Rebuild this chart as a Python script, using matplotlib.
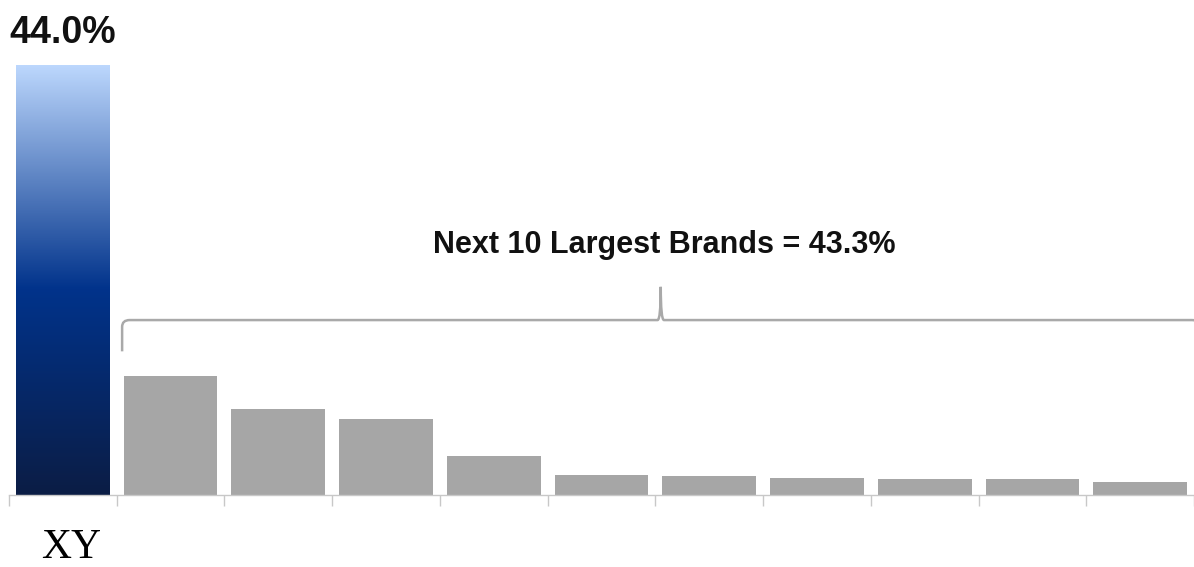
import matplotlib
matplotlib.use("Agg")
import matplotlib.pyplot as plt
import matplotlib.transforms as mtransforms
import numpy as np
from matplotlib.colors import LinearSegmentedColormap
from matplotlib.path import Path
from matplotlib.patches import PathPatch

# market share, %: XY first, then the next 10 largest brands
brands = ["XY", "", "", "", "", "", "", "", "", "", ""]
shares = [44.0, 12.2, 8.8, 7.8, 4.0, 2.0, 1.9, 1.7, 1.6, 1.6, 1.3]
top_label = "44.0%"
group_label = "Next 10 Largest Brands = 43.3%"

narrow = ["Liberation Sans Narrow", "Liberation Sans", "DejaVu Sans"]

fig = plt.figure(figsize=(11.94, 5.67), dpi=100)
ax = fig.add_axes([9 / 1194, 72 / 567, 1185 / 1194, 495 / 567])

x = np.arange(len(shares))
width = 0.87
bars = ax.bar(x, shares, width=width, color="#a6a6a6", zorder=2)

# gradient fill for the XY bar
blues = LinearSegmentedColormap.from_list(
    "xy", [(0.0, "#0b1d45"), (0.48, "#01338b"), (1.0, "#bcd7fd")])
b0 = bars[0]
b0.set_facecolor("none")
grad = np.linspace(0, 1, 256).reshape(-1, 1)
im = ax.imshow(grad, cmap=blues, origin="lower", aspect="auto",
               extent=(b0.get_x(), b0.get_x() + b0.get_width(), 0, shares[0]),
               zorder=2)
im.set_clip_path(b0)

ax.set_xlim(-0.5, -0.5 + 1185 / 108.4)
ax.set_ylim(0, 495 / (430 / 44.0))

# value label on XY
ax.annotate(top_label, (0, shares[0]), xytext=(0, 15.5), textcoords="offset points",
            ha="center", va="baseline", fontsize=27, fontweight="bold",
            family=narrow, color="#111111")

# brace over the other ten bars
bl, bm, br = 0.55, 5.55, 10.55
yh, ytip, ypk = 17.9, 14.7, 21.3
dx, dy = 0.07, 0.7
verts = [
    (bl, ytip), (bl, yh - dy), (bl, yh), (bl + dx, yh),
    (bm - 0.03, yh), (bm, yh), (bm, ypk),
    (bm, yh), (bm + 0.03, yh),
    (br - dx, yh), (br, yh), (br, yh - dy), (br, ytip),
]
codes = [Path.MOVETO, Path.LINETO, Path.CURVE3, Path.CURVE3,
         Path.LINETO, Path.CURVE3, Path.CURVE3,
         Path.CURVE3, Path.CURVE3,
         Path.LINETO, Path.CURVE3, Path.CURVE3, Path.LINETO]
ax.add_patch(PathPatch(Path(verts, codes), fill=False, edgecolor="#a9a9a9",
                       lw=1.8, clip_on=False, zorder=3))
ax.text(5.58, 25.6, group_label, ha="center", va="center", fontsize=22,
        fontweight="bold", family=narrow, color="#111111")

# axis styling
for s in ["top", "right", "left"]:
    ax.spines[s].set_visible(False)
ax.spines["bottom"].set_color("#c8c8c8")
ax.spines["bottom"].set_linewidth(1.0)
ax.set_yticks([])
ax.set_xticks(np.arange(-0.5, len(shares), 1.0), minor=False)
ax.set_xticklabels([])
ax.tick_params(axis="x", length=8, width=1.0, color="#c8c8c8", direction="out")
ax.set_xticks(x, minor=True)
ax.set_xticklabels(brands, minor=True, fontsize=30, family="Liberation Serif")
ax.tick_params(axis="x", which="minor", length=0, pad=24)
shift = mtransforms.ScaledTranslation(8 / 100, 0, fig.dpi_scale_trans)
for lab in ax.get_xticklabels(minor=True):
    lab.set_transform(lab.get_transform() + shift)

fig.savefig("out.png", dpi=100)
